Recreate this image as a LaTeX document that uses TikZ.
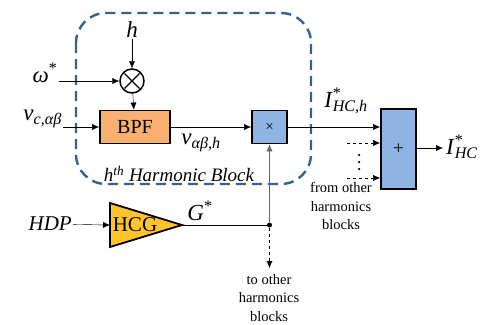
\documentclass[tikz,border=0pt]{standalone}
\usepackage{fontspec}
\setmainfont{Liberation Serif}
\usepackage{xcolor}
\definecolor{bpf-orange}{HTML}{F8B170}
\definecolor{block-blue}{HTML}{8DB4E2}
\definecolor{hcg-yellow}{HTML}{FFC52A}
\definecolor{frame-blue}{HTML}{36618F}
\usetikzlibrary{arrows.meta,positioning,calc}
\newcommand{\vsym}[2]{\textit{#1}\textsubscript{\textit{#2}}}
\newcommand{\isym}[2]{\textit{#1}\rlap{\textsuperscript{*}}\textsubscript{\textit{#2}}}
\tikzset{
    -{Latex[length=7pt,width=6pt]}, line width=1.1pt,
    blockbox/.style ={rectangle, draw, line width=1.8pt, inner sep=0pt},
    mult/.style = {circle, draw, line width=1.5pt, minimum size=24pt, inner sep=0pt,
      path picture={\draw[-, line width=1.4pt] ($(path picture bounding box.center)+(-7.5,-7.5)$) -- ($(path picture bounding box.center)+(7.5,7.5)$)
                    ($(path picture bounding box.center)+(-7.5,7.5)$) -- ($(path picture bounding box.center)+(7.5,-7.5)$);}},
    lbl/.style = {inner sep=1pt, font=\fontsize{23}{25}\selectfont},
    small/.style = {inner sep=0pt, align=center, font=\fontsize{14.5}{18.5}\selectfont},
    dot/.style = {circle, fill, inner sep=0pt, minimum size=5pt},
    tinydot/.style = {circle, fill, inner sep=0pt, minimum size=2.5pt}
}
\begin{document}
\begin{tikzpicture}[x=1pt,y=-1pt]
      \useasboundingbox (0,0) rectangle (481,324);
      % harmonic block frame
      \draw[-, frame-blue, line width=2.4pt, dash pattern=on 10pt off 6pt, rounded corners=30pt] (76,13) rectangle (311,184);
      \node[inner sep=0pt, font=\fontsize{19}{21}\selectfont\itshape] (blocklabel) at (179,174) {h\textsuperscript{th} Harmonic Block};

      \node[lbl] (h) at (132,30) {\textit{h}};
      \node[mult] (times) at (132,81) {};
      \node[lbl] (omega) at (45,73) {\textit{ω}\textsuperscript{*}};
      \node[blockbox, fill=bpf-orange, minimum width=70pt, minimum height=33pt, font=\fontsize{20}{22}\selectfont] (bpf) at (135,127) {BPF};
      \node[lbl, anchor=east] (vin) at (63,119) {\vsym{v}{c,αβ}};
      \node[blockbox, fill=block-blue, minimum width=35pt, minimum height=33pt, font=\fontsize{15}{17}\selectfont] (prod) at (269.5,127) {×};
      \node[lbl] (vh) at (201,143) {\vsym{v}{αβ,h}};

      \node[blockbox, fill=block-blue, minimum width=35pt, minimum height=80pt, font=\fontsize{19}{21}\selectfont] (sum) at (398.5,149) {+};
      \node[lbl] (ih) at (346,101) {\isym{I}{HC,h}};
      \node[lbl, anchor=west] (iout) at (445,147) {\isym{I}{HC}};
      \coordinate (iend) at (443,148);
      \coordinate (from1) at (347,143);
      \coordinate (from2) at (347,178);
      \foreach \y [count=\i] in {155,162,169}
        \node[tinydot] (vdot\i) at (359,\y) {};
      \node[small] (fromtxt) at (341,206) {from other\\harmonics\\blocks};

      % harmonic content generator
      \coordinate (hcg-in) at (110,225);
      \coordinate (hcg-out) at (182,225);
      \draw[-, fill=hcg-yellow, line width=1.8pt] (110,203) -- (hcg-out) -- (110,247) -- cycle;
      \node[inner sep=0pt, font=\fontsize{21}{23}\selectfont] (hcg) at (135,225) {HCG};
      \node[lbl, anchor=east, font=\fontsize{21}{23}\selectfont\itshape] (hdp) at (73,224) {HDP};
      \node[lbl] (gstar) at (200,211) {\textit{G}\textsuperscript{*}};
      \node[dot] (junc) at (269.5,225) {};
      \coordinate (down) at (269.5,268);
      \node[small] (totxt) at (269,298) {to other\\harmonics\\blocks};

      \draw (h) -- (times);
      \draw (omega.east |- times) -- (times);
      \draw (times) -- (bpf);
      \draw (vin.east |- bpf) -- (bpf);
      \draw (bpf) -- (prod);
      \draw (prod) -- (sum.west |- prod);
      \draw[dashed] (from1) -- (sum.west |- from1);
      \draw[dashed] (from2) -- (sum.west |- from2);
      \draw (sum.east |- iend) -- (iend);
      \draw (hdp) -- (hcg-in);
      \draw[-] (hcg-out) -- (junc);
      \draw[gray!80!black] (junc) -- (prod);
      \draw[dashed] (junc) -- (down);
    \end{tikzpicture}
\end{document}
